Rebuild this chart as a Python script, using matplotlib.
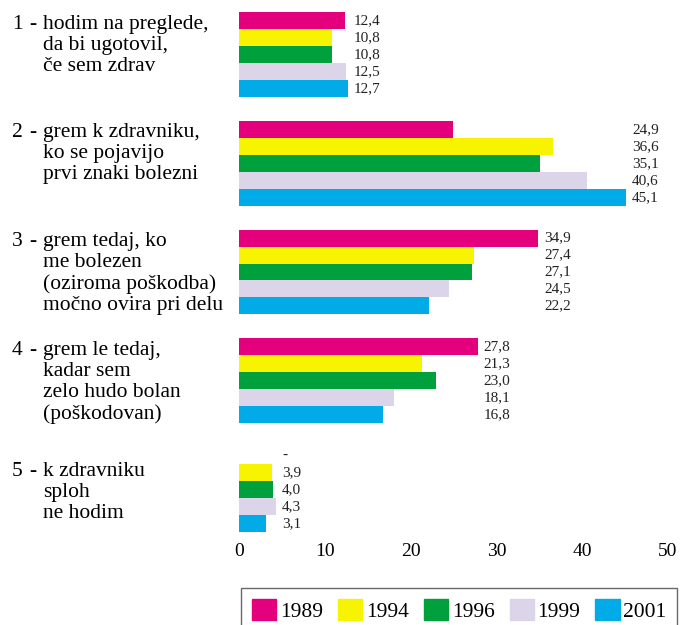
import numpy as np
import matplotlib
matplotlib.use("Agg")
import matplotlib.pyplot as plt

plt.rcParams["font.family"] = ["Liberation Serif", "DejaVu Serif"]

# data
years = ["1989", "1994", "1996", "1999", "2001"]
colors = ["#E4007C", "#F8F300", "#00A03C", "#DCD5E9", "#00ABE8"]
numbers = ["1", "2", "3", "4", "5"]
answers = [
    "hodim na preglede,\nda bi ugotovil,\nče sem zdrav",
    "grem k zdravniku,\nko se pojavijo\nprvi znaki bolezni",
    "grem tedaj, ko\nme bolezen\n(oziroma poškodba)\nmočno ovira pri delu",
    "grem le tedaj,\nkadar sem\nzelo hudo bolan\n(poškodovan)",
    "k zdravniku\nsploh\nne hodim",
]
g1 = [12.4, 10.8, 10.8, 12.5, 12.7]
g2 = [24.9, 36.6, 35.1, 40.6, 45.1]
g3 = [34.9, 27.4, 27.1, 24.5, 22.2]
g4 = [27.8, 21.3, 23.0, 18.1, 16.8]
g5 = [np.nan, 3.9, 4.0, 4.3, 3.1]
groups = [g1, g2, g3, g4, g5]
xticks = [0, 10, 20, 30, 40, 50]

W, H = 684, 625
fig = plt.figure(figsize=(W / 100, H / 100), dpi=100)
ax = fig.add_axes([239 / W, 1 - 532 / H, 429 / W, 520 / H])

pitch = 6.4
for g, vals in enumerate(groups):
    vals = np.array(vals, dtype=float)
    ys = g * pitch + np.arange(len(vals))
    ax.barh(ys, np.nan_to_num(vals), height=1.0, color=colors, linewidth=0)
    xlab = np.nanmax(vals) + 0.7
    for y, v in zip(ys, vals):
        txt = "-" if np.isnan(v) else f"{v:.1f}".replace(".", ",")
        ax.text(xlab, y, txt, ha="left", va="center", fontsize=11, color="#222222")

ax.set_xlim(0, 50)
ax.set_ylim(4 * pitch + 4.5, -0.5)
ax.set_xticks(xticks)
ax.set_xticklabels([str(t) for t in xticks], fontsize=14)
ax.set_yticks([])
ax.tick_params(axis="x", length=0, pad=8)
for s in ax.spines.values():
    s.set_visible(False)

# category labels on the left
label_tops = [12, 120, 229, 338, 459]
for num, txt, top in zip(numbers, answers, label_tops):
    yf = 1 - (top + 3) / H
    fig.text(12 / W, yf, num, fontsize=15.5, va="top", ha="left")
    fig.text(29 / W, yf, "-", fontsize=15.5, va="top", ha="left")
    fig.text(43 / W, yf, txt, fontsize=15.5, va="top", ha="left", linespacing=1.14)

handles = [plt.Rectangle((0, 0), 1, 1, color=c) for c in colors]
leg = fig.legend(handles, years, loc="upper left", ncol=5,
                 bbox_to_anchor=(241 / W, 1 - 588 / H), fontsize=15.5,
                 frameon=True, fancybox=False, edgecolor="#444444",
                 handlelength=1.12, handleheight=1.12, handletextpad=0.18,
                 columnspacing=0.7, borderpad=0.5, borderaxespad=0)
leg.get_frame().set_linewidth(1.0)

fig.savefig("out.png", dpi=100)
